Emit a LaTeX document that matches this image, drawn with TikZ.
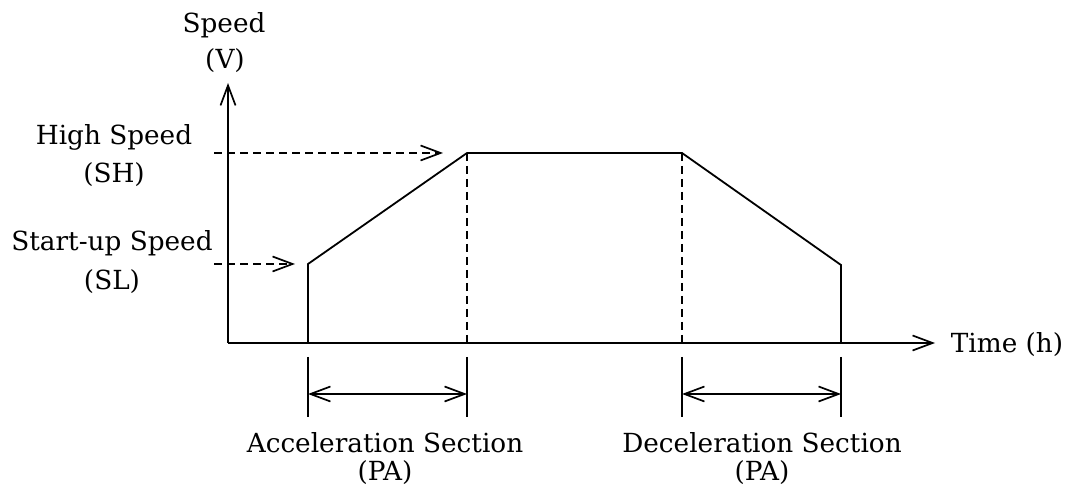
\documentclass[tikz,border=0pt]{standalone}
\usepackage{fontspec}
\setmainfont{DejaVu Serif}
\usetikzlibrary{arrows.meta}
\begin{document}
\begin{tikzpicture}[x=1pt,y=-1pt,
  line width=1.8pt,
  barb/.tip={Straight Barb[length=20pt,width=15pt,line width=1.7pt]},
  tip/.style={-barb},
  twotip/.style={barb-barb},
  guide/.style={dash pattern=on 8pt off 5pt},
  lbl/.style={font=\fontsize{26.3}{30}\selectfont, inner sep=0pt, anchor=base}]
\useasboundingbox (0,0) rectangle (1069,486);
% axes
\coordinate (O) at (228,343);
\coordinate (ytop) at (228,83);
\coordinate (xend) at (935,343);
\draw[tip] (O) -- (ytop);
\draw[tip] (O) -- (xend);
% speed profile corners
\coordinate (a0) at (308,343);
\coordinate (a1) at (308,264);
\coordinate (a2) at (467,153);
\coordinate (a3) at (682,153);
\coordinate (a4) at (841,265);
\coordinate (a5) at (841,343);
\draw (a0) -- (a1) -- (a2) -- (a3) -- (a4) -- (a5);
\coordinate (b2) at (467,343);
\coordinate (b3) at (682,343);
\draw[guide] (a2) -- (b2);
\draw[guide] (a3) -- (b3);
% level indicators
\coordinate (sh0) at (214,153);
\coordinate (sh1) at (443,153);
\coordinate (sl0) at (214,264);
\coordinate (sl1) at (295,264);
\draw[guide,tip] (sh0) -- (sh1);
\draw[guide,tip] (sl0) -- (sl1);
% extension lines below the time axis
\foreach \n/\x in {e1/308,e2/467,e3/682,e4/841}{
  \coordinate (\n t) at (\x,357);
  \coordinate (\n b) at (\x,417);
  \draw (\n t) -- (\n b);
  \coordinate (\n m) at (\x,394);
}
\draw[twotip] (e1m) -- (e2m);
\draw[twotip] (e3m) -- (e4m);
% labels
\node[lbl] (speed) at (224,33) {Speed};
\node[lbl] (speedv) at (225,69) {(V)};
\node[lbl] (high) at (114,145) {High Speed};
\node[lbl] (highsh) at (114,183) {(SH)};
\node[lbl] (start) at (112,251) {Start-up Speed};
\node[lbl] (startsl) at (112,290) {(SL)};
\node[lbl, anchor=base west] (time) at (950,353) {Time (h)};
\node[lbl] (acc) at (385,452) {Acceleration Section};
\node[lbl] (accpa) at (385,480) {(PA)};
\node[lbl] (dec) at (762,452) {Deceleration Section};
\node[lbl] (decpa) at (762,480) {(PA)};
\end{tikzpicture}
\end{document}
